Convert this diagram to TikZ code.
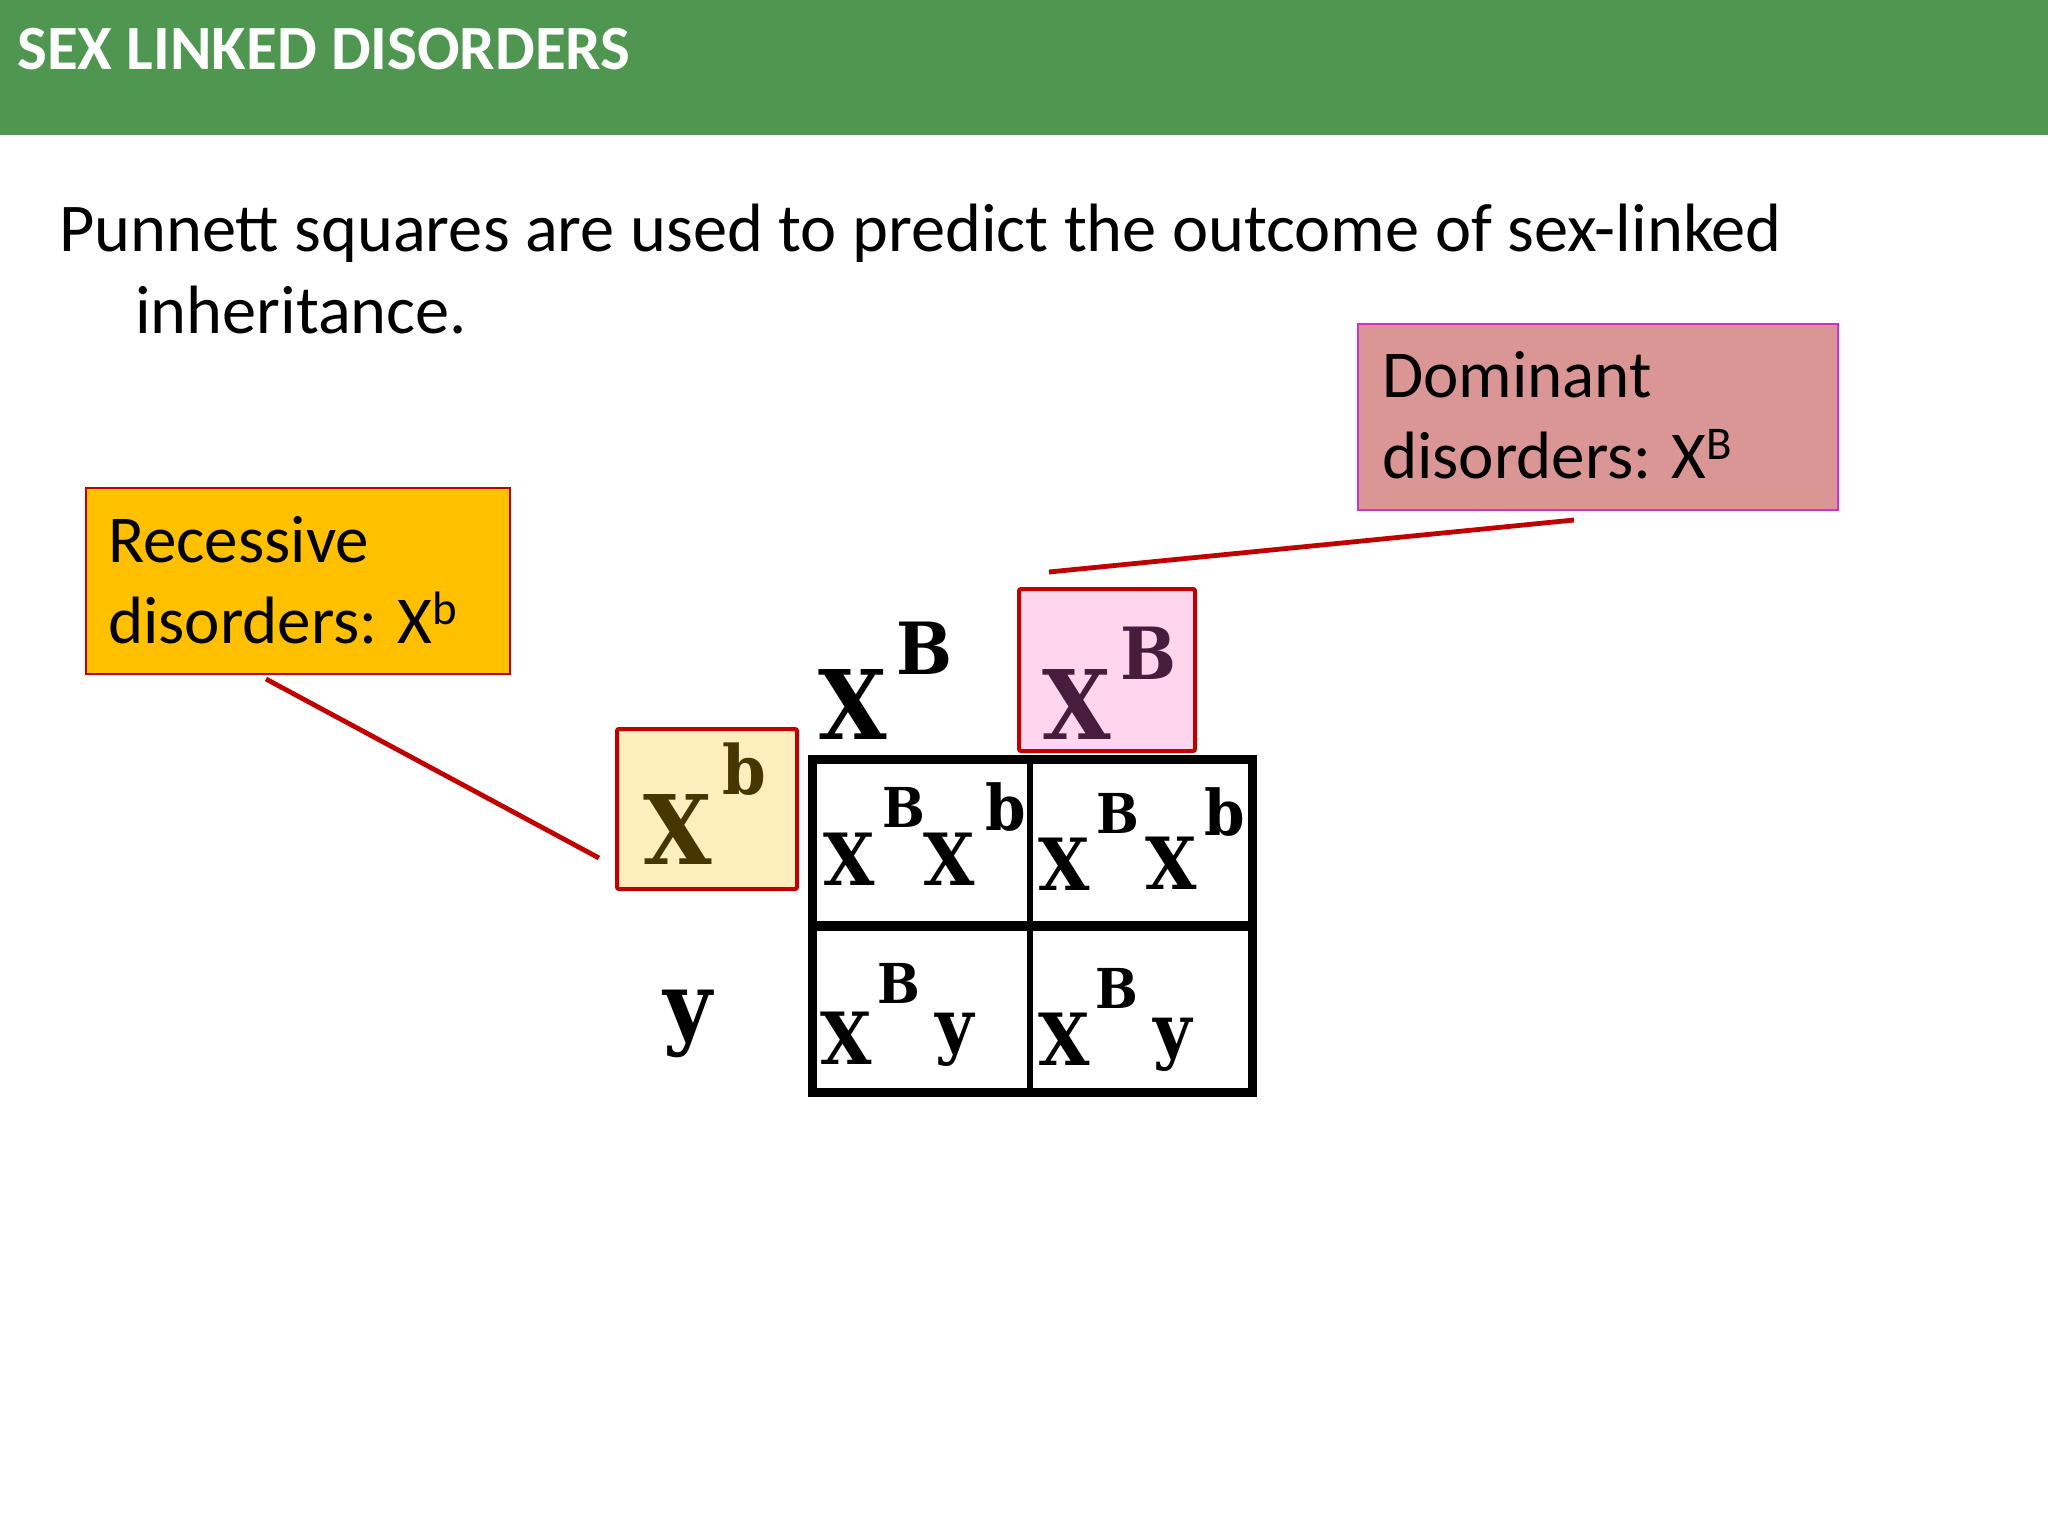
\documentclass[tikz,border=0pt]{standalone}
\usepackage{fontspec}
\usepackage{graphicx}
\setmainfont{Carlito}
\newfontfamily\pfont{DejaVu Serif}
\definecolor{hdr}{RGB}{79,150,80}
\definecolor{dred}{RGB}{192,0,0}
\definecolor{recfill}{RGB}{255,192,0}
\definecolor{domfill}{RGB}{217,150,148}
\definecolor{dommag}{RGB}{204,51,204}
\definecolor{yelbox}{RGB}{255,238,190}
\definecolor{pinkbox}{RGB}{255,214,238}
\definecolor{yeltxt}{RGB}{72,54,0}
\definecolor{pinktxt}{RGB}{72,28,60}
\newcommand\gl[2]{{\pfont\bfseries\fontsize{#1}{#1}\selectfont\scalebox{0.92}[1]{#2}}}
\tikzset{
  glyph/.style={anchor=north west, inner sep=0pt, outer sep=0pt},
  txt/.style={anchor=base west, inner sep=0pt, outer sep=0pt, font=\fontsize{34.2}{40}\selectfont},
  ctxt/.style={anchor=base west, inner sep=0pt, outer sep=0pt, font=\fontsize{33.5}{40}\selectfont},
  callout/.style={anchor=north west, inner sep=0pt, line width=1pt},
  parentbox/.style={anchor=north west, inner sep=0pt, line width=2pt, draw=dred, rounded corners=1pt},
  link/.style={draw=dred, line width=2.4pt},
}
\begin{document}
\begin{tikzpicture}[x=0.5pt, y=-0.5pt]
\useasboundingbox (0,0) rectangle (2048,1536);
% header
\node[fill=hdr, anchor=north west, inner sep=0pt, minimum width=1024pt, minimum height=67.5pt] (header) at (0,0) {};
\node[anchor=base west, inner sep=0pt, text=white, font=\fontsize{31.5}{36}\selectfont\bfseries] (title) at (17,69) {SEX LINKED DISORDERS};
% body text
\node[txt] (line1) at (59,251) {Punnett squares are used to predict the outcome of sex-linked};
\node[txt] (line2) at (135,333) {inheritance.};
% callouts
\node[callout, draw=dred, fill=recfill, minimum width=212pt, minimum height=93pt] (rec) at (85,487) {};
\node[ctxt] (rec1) at (108,562) {Recessive};
\node[ctxt] (rec2) at (108,643) {disorders: X\textsuperscript{b}};
\node[callout, draw=dommag, fill=domfill, minimum width=240pt, minimum height=93pt] (dom) at (1357,323) {};
\node[ctxt] (dom1) at (1382,397) {Dominant};
\node[ctxt] (dom2) at (1382,478) {disorders: X\textsuperscript{B}};
% parent boxes
\node[parentbox, fill=yelbox, minimum width=90pt, minimum height=80pt] (yb) at (615,727) {};
\node[parentbox, fill=pinkbox, minimum width=88pt, minimum height=81pt] (pb) at (1017,587) {};
% connectors
\coordinate (r1) at (266,679);
\coordinate (r2) at (599,858);
\coordinate (d1) at (1574,520);
\coordinate (d2) at (1049,572);
\draw[link] (r1) -- (r2);
\draw[link] (d1) -- (d2);
% grid
\draw[line width=4.5pt] (812,759) rectangle (1252,1092);
\draw[line width=3pt] (1030,759) -- (1030,1092);
\draw[line width=5pt] (812,926) -- (1252,926);
% header alleles
\node[glyph] (hX) at (818,670) {\gl{48}{X}};
\node[glyph] (hB) at (896,622) {\gl{36}{B}};
\node[glyph, text=pinktxt] (pX) at (1042,670) {\gl{48}{X}};
\node[glyph, text=pinktxt] (pB) at (1120,627) {\gl{36}{B}};
\node[glyph, text=yeltxt] (yX) at (643,795) {\gl{48}{X}};
\node[glyph, text=yeltxt] (yb2) at (722,743) {\gl{34}{b}};
\node[glyph] (ly) at (663,990) {\gl{45.7}{y}};
% cell 1
\node[glyph] (c1X) at (823,833) {\gl{36}{X}};
\node[glyph] (c1B) at (882,787) {\gl{27.5}{B}};
\node[glyph] (c1X2) at (923,833) {\gl{36}{X}};
\node[glyph] (c1b) at (985,783) {\gl{31.5}{b}};
% cell 2
\node[glyph] (c2X) at (1038,838) {\gl{36}{X}};
\node[glyph] (c2B) at (1096,793) {\gl{27.5}{B}};
\node[glyph] (c2X2) at (1145,837) {\gl{36}{X}};
\node[glyph] (c2b) at (1204,788) {\gl{31.5}{b}};
% cell 3
\node[glyph] (c3X) at (820,1012) {\gl{36}{X}};
\node[glyph] (c3B) at (877,963) {\gl{27.5}{B}};
\node[glyph] (c3y) at (935,1013) {\gl{36}{y}};
% cell 4
\node[glyph] (c4X) at (1038,1013) {\gl{36}{X}};
\node[glyph] (c4B) at (1095,968) {\gl{27.5}{B}};
\node[glyph] (c4y) at (1153,1018) {\gl{36}{y}};
\end{tikzpicture}
\end{document}
